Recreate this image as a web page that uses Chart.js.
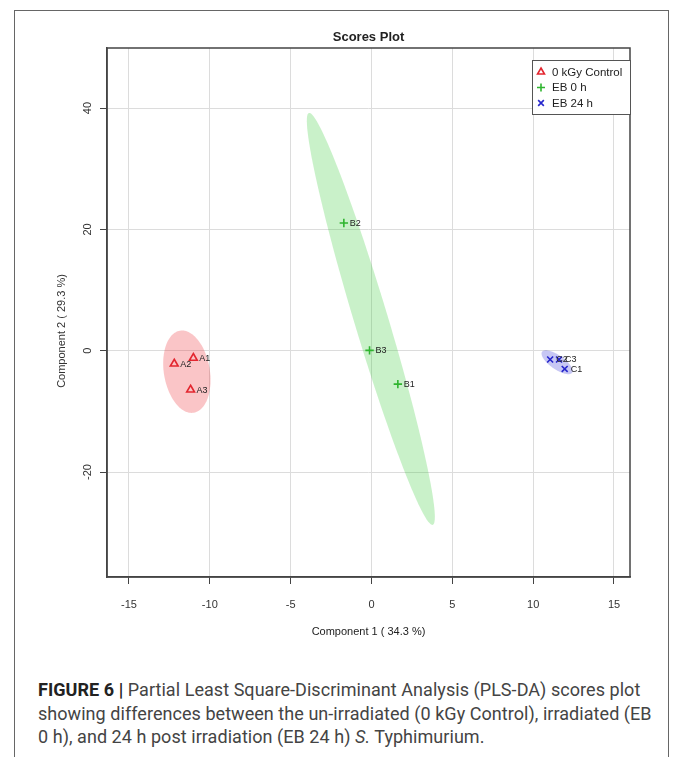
<!DOCTYPE html>
<html>
<head>
<meta charset="utf-8">
<script src="https://cdn.jsdelivr.net/npm/chart.js@4.4.1/dist/chart.umd.min.js"></script>
<style>
html, body { margin: 0; padding: 0; background: #fff; }
body { width: 674px; height: 757px; position: relative; overflow: hidden; }
#frame { position: absolute; left: 14px; top: 10px; width: 655px; height: 800px; border: 1px solid #666; border-bottom: none; box-sizing: border-box; }
#chart { position: absolute; left: 0; top: 0; }
#caption { position: absolute; left: 38px; top: 678px; white-space: nowrap; font-family: Roboto, "Liberation Sans", sans-serif; font-size: 18px; line-height: 23.5px; color: #444; letter-spacing: 0.05px; }
#caption b { color: #222; }
</style>
</head>
<body>
<div id="frame"></div>
<canvas id="chart" width="674" height="650"></canvas>
<div id="caption"><b>FIGURE 6 |</b> Partial Least Square-Discriminant Analysis (PLS-DA) scores plot<br>showing differences between the un-irradiated (0 kGy Control), irradiated (EB<br>0 h), and 24 h post irradiation (EB 24 h) <i>S.</i> Typhimurium.</div>
<script>
const FONT = "'Liberation Sans', Arial, sans-serif";

// groups and sample scores (component 1 / component 2)
const groupNames = ["0 kGy Control", "EB 0 h", "EB 24 h"];
const controlX = [-11.02, -12.2, -11.19];
const controlY = [-1.2, -2.15, -6.43];
const controlLabels = ["A1", "A2", "A3"];
const eb0X = [1.63, -1.71, -0.12];
const eb0Y = [-5.5, 21.05, 0.05];
const eb0Labels = ["B1", "B2", "B3"];
const eb24X = [11.95, 11.05, 11.6];
const eb24Y = [-3.0, -1.45, -1.45];
const eb24Labels = ["C1", "C2", "C3"];

// confidence ellipses: centre, semi-axis a, semi-axis b (data units)
const ellipseCX = [-11.42, -0.04, 11.48];
const ellipseCY = [-3.46, 5.24, -1.9];
const ellipseAX = [-0.43, -3.83, 0.93];
const ellipseAY = [6.76, 33.95, -1.73];
const ellipseBX = [1.40, 1.0, -0.25];
const ellipseBY = [0.64, 0.8, -0.94];
const ellipseFill = ["rgba(235,30,40,0.26)", "rgba(40,200,40,0.25)", "rgba(30,30,210,0.25)"];

// axis ticks
const xTicks = [-15, -10, -5, 0, 5, 10, 15];
const yTicks = [-20, 0, 20, 40];

const colors = ["#e3262f", "#2fb52f", "#2626cc"];
const styles = ["triangle", "cross", "crossRot"];

const toPts = (xs, ys) => xs.map((x, i) => ({ x: x, y: ys[i] }));
const pointLabels = [controlLabels, eb0Labels, eb24Labels];

const datasets = [
    { label: groupNames[0], data: toPts(controlX, controlY) },
    { label: groupNames[1], data: toPts(eb0X, eb0Y) },
    { label: groupNames[2], data: toPts(eb24X, eb24Y) }
].map((d, i) => Object.assign(d, {
    pointStyle: styles[i],
    borderColor: colors[i],
    backgroundColor: "rgba(0,0,0,0)",
    pointRadius: i === 0 ? 4.5 : 4.2,
    pointBorderWidth: 1.6,
    showLine: false
}));

const extras = {
    id: "extras",
    beforeDatasetsDraw(chart) {
        const { ctx, scales: { x, y } } = chart;
        ctx.save();
        ellipseCX.forEach((cx, i) => {
            ctx.beginPath();
            for (let k = 0; k <= 120; k++) {
                const t = k / 120 * Math.PI * 2;
                const vx = cx + ellipseAX[i] * Math.cos(t) + ellipseBX[i] * Math.sin(t);
                const vy = ellipseCY[i] + ellipseAY[i] * Math.cos(t) + ellipseBY[i] * Math.sin(t);
                const px = x.getPixelForValue(vx), py = y.getPixelForValue(vy);
                if (k === 0) ctx.moveTo(px, py); else ctx.lineTo(px, py);
            }
            ctx.closePath();
            ctx.fillStyle = ellipseFill[i];
            ctx.fill();
        });
        ctx.restore();
    },
    afterDatasetsDraw(chart) {
        const { ctx, chartArea: a, scales: { y } } = chart;
        ctx.save();
        // title, centred on the plot region
        ctx.font = "bold 13px " + FONT;
        ctx.fillStyle = "#222";
        ctx.textAlign = "center";
        ctx.textBaseline = "middle";
        ctx.fillText("Scores Plot", (a.left + a.right) / 2, 37);
        // sample labels
        ctx.font = "9px " + FONT;
        ctx.fillStyle = "#222";
        ctx.textAlign = "left";
        chart.data.datasets.forEach((ds, i) => {
            chart.getDatasetMeta(i).data.forEach((el, j) => {
                ctx.fillText(pointLabels[i][j], el.x + 6, el.y + 0.5);
            });
        });
        // plot box
        ctx.strokeStyle = "#444";
        ctx.lineWidth = 1.5;
        ctx.strokeRect(a.left, a.top, a.right - a.left, a.bottom - a.top);
        // y tick labels, rotated
        ctx.font = "11px " + FONT;
        ctx.fillStyle = "#333";
        ctx.textAlign = "center";
        yTicks.forEach(v => {
            ctx.save();
            ctx.translate(a.left - 19, y.getPixelForValue(v));
            ctx.rotate(-Math.PI / 2);
            ctx.fillText(String(v), 0, 0);
            ctx.restore();
        });
        // y axis title
        ctx.save();
        ctx.translate(a.left - 45, 331);
        ctx.rotate(-Math.PI / 2);
        ctx.fillText("Component 2 ( 29.3 %)", 0, 0);
        ctx.restore();
        // legend
        const lx = a.right - 98, ly = a.top + 12, lw = 98, lh = 54;
        ctx.fillStyle = "#fff";
        ctx.fillRect(lx, ly, lw, lh);
        ctx.strokeStyle = "#555";
        ctx.lineWidth = 1;
        ctx.strokeRect(lx + 0.5, ly + 0.5, lw, lh);
        ctx.font = "11.5px " + FONT;
        ctx.textAlign = "left";
        chart.data.datasets.forEach((ds, i) => {
            const ry = ly + 12 + i * 15.5;
            ctx.strokeStyle = colors[i];
            ctx.fillStyle = "rgba(0,0,0,0)";
            ctx.lineWidth = 1.6;
            Chart.helpers.drawPoint(ctx, { pointStyle: styles[i], radius: 4, rotation: 0, borderWidth: 1.6 }, lx + 9, ry);
            ctx.fillStyle = "#222";
            ctx.fillText(ds.label, lx + 20, ry + 0.5);
        });
        ctx.restore();
    }
};

const config = {
    type: "scatter",
    data: { datasets: datasets },
    options: {
        responsive: false,
        animation: false,
        devicePixelRatio: 1,
        layout: { padding: { left: 0, right: 44, top: 48, bottom: 0 } },
        plugins: {
            legend: { display: false },
            tooltip: { enabled: false },
            title: { display: false }
        },
        scales: {
            x: {
                type: "linear",
                min: -16.36,
                max: 15.99,
                afterBuildTicks: s => { s.ticks = xTicks.map(v => ({ value: v })); },
                afterFit: s => { s.height = 73; s.paddingLeft = 0; s.paddingRight = 0; },
                grid: { color: "#dcdcdc", tickColor: "#444", tickLength: 7, lineWidth: 1 },
                border: { display: true, color: "#444", width: 1.5 },
                ticks: { color: "#333", padding: 14, font: { family: FONT, size: 11 } },
                title: {
                    display: true,
                    text: "Component 1 ( 34.3 %)",
                    color: "#222",
                    font: { family: FONT, size: 11 },
                    padding: { top: 4, bottom: 11.4 }
                }
            },
            y: {
                type: "linear",
                min: -37.3,
                max: 49.9,
                afterBuildTicks: s => { s.ticks = yTicks.map(v => ({ value: v })); },
                afterFit: s => { s.width = 107; s.paddingTop = 0; s.paddingBottom = 0; },
                grid: { color: "#dcdcdc", tickColor: "#444", tickLength: 7, lineWidth: 1 },
                border: { display: true, color: "#444", width: 1.5 },
                ticks: { display: false }
            }
        }
    },
    plugins: [extras]
};

new Chart(document.getElementById("chart"), config);
</script>
</body>
</html>
